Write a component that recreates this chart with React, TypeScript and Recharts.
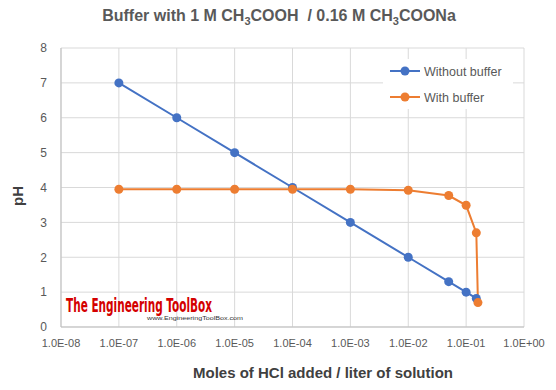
import React from 'react';
import { LineChart, Line, XAxis, YAxis, CartesianGrid } from 'recharts';

// Buffer demo: pH vs moles HCl added, with and without acetate buffer.

const DECADE_TICKS = [1e-8, 1e-7, 1e-6, 1e-5, 1e-4, 1e-3, 1e-2, 1e-1, 1];
const PH_TICKS = [0, 1, 2, 3, 4, 5, 6, 7, 8];

const WITHOUT_X = [1e-7, 1e-6, 1e-5, 1e-4, 1e-3, 1e-2, 0.05, 0.1, 0.15];
const WITHOUT_PH = [7, 6, 5, 4, 3, 2, 1.3, 1.0, 0.82];

const WITH_X = [1e-7, 1e-6, 1e-5, 1e-4, 1e-3, 1e-2, 0.05, 0.1, 0.15, 0.16];
const WITH_PH = [3.95, 3.95, 3.95, 3.95, 3.95, 3.92, 3.77, 3.49, 2.7, 0.7];

const BLUE = '#4472c4';
const ORANGE = '#ed7d31';
const FONT = '"Liberation Sans", Arial, sans-serif';

const withoutData = WITHOUT_X.map((x, i) => ({ x, ph: WITHOUT_PH[i] }));
const withData = WITH_X.map((x, i) => ({ x, ph: WITH_PH[i] }));

function sciLabel(v: number) {
  const e = Math.round(Math.log10(v));
  const sign = e < 0 ? '-' : '+';
  return `1.0E${sign}${String(Math.abs(e)).padStart(2, '0')}`;
}

export default function App() {
  return (
    <div style={{ position: 'absolute', left: 0, top: 0, width: 556, height: 390, background: '#fff' }}>
      <LineChart width={556} height={390} margin={{ top: 48, right: 32, bottom: 0, left: 0 }}>
        <CartesianGrid stroke="#d9d9d9" />
        <XAxis
          dataKey="x"
          type="number"
          scale="log"
          domain={[1e-8, 1]}
          ticks={DECADE_TICKS}
          interval={0}
          allowDataOverflow
          height={63}
          tickLine={false}
          tickMargin={6}
          axisLine={{ stroke: '#bfbfbf' }}
          tickFormatter={sciLabel}
          tick={{ fill: '#595959', fontSize: 11, fontFamily: FONT }}
        />
        <YAxis
          type="number"
          domain={[0, 8]}
          ticks={PH_TICKS}
          interval={0}
          width={61}
          tickLine={false}
          tickMargin={8}
          axisLine={{ stroke: '#bfbfbf' }}
          tick={{ fill: '#595959', fontSize: 12, fontFamily: FONT }}
        />
        <Line
          data={withoutData}
          dataKey="ph"
          stroke={BLUE}
          strokeWidth={2}
          dot={{ r: 4.5, fill: BLUE, stroke: BLUE, strokeWidth: 0 }}
          isAnimationActive={false}
        />
        <Line
          data={withData}
          dataKey="ph"
          stroke={ORANGE}
          strokeWidth={2}
          dot={{ r: 4.5, fill: ORANGE, stroke: ORANGE, strokeWidth: 0 }}
          isAnimationActive={false}
        />
      </LineChart>

      <svg
        width={556}
        height={390}
        style={{ position: 'absolute', left: 0, top: 0, pointerEvents: 'none', fontFamily: FONT }}
      >
        <text x={279} y={21} textAnchor="middle" fontSize={16} fontWeight="bold" fill="#595959" style={{ whiteSpace: 'pre' }}>
          <tspan>Buffer with 1 M CH</tspan>
          <tspan fontSize={11} dy={4}>3</tspan>
          <tspan dy={-4}>COOH  / 0.16 M CH</tspan>
          <tspan fontSize={11} dy={4}>3</tspan>
          <tspan dy={-4}>COONa</tspan>
        </text>

        <text
          x={0}
          y={0}
          transform="translate(23,196) rotate(-90)"
          textAnchor="middle"
          fontSize={15}
          fontWeight="bold"
          fill="#404040"
        >
          pH
        </text>
        <text x={323} y={378} textAnchor="middle" fontSize={15} fontWeight="bold" fill="#404040">
          Moles of HCl added / liter of solution
        </text>

        {/* legend */}
        <rect x={383} y={59} width={130} height={50} fill="#fff" />
        <line x1={390} x2={420} y1={71} y2={71} stroke={BLUE} strokeWidth={2} />
        <circle cx={405} cy={71} r={4.5} fill={BLUE} />
        <text x={424} y={75.5} fontSize={12.5} fill="#595959">Without buffer</text>
        <line x1={390} x2={420} y1={97} y2={97} stroke={ORANGE} strokeWidth={2} />
        <circle cx={405} cy={97} r={4.5} fill={ORANGE} />
        <text x={424} y={101.5} fontSize={12.5} fill="#595959">With buffer</text>

        {/* watermark */}
        <text
          x={66}
          y={312}
          fontSize={19}
          fontWeight="bold"
          fontFamily='"DejaVu Sans Condensed", "Liberation Sans Narrow", sans-serif'
          fill="#d40000"
          textLength={146}
          lengthAdjust="spacingAndGlyphs"
        >
          The Engineering ToolBox
        </text>
        <text x={147} y={320} fontSize={6} fill="#333" textLength={96} lengthAdjust="spacingAndGlyphs">
          www.EngineeringToolBox.com
        </text>
      </svg>
    </div>
  );
}
